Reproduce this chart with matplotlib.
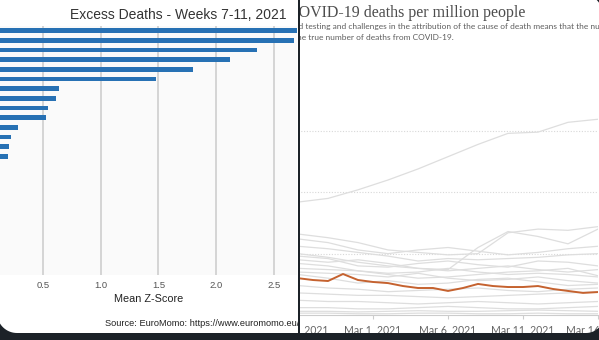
import matplotlib
matplotlib.use("Agg")
import matplotlib.pyplot as plt
import matplotlib.transforms as mtransforms
from matplotlib.patches import Rectangle, Polygon
import numpy as np
import pandas as pd

# --- left panel: mean z-score per country, weeks 7-11 ---
zscores = [2.85, 2.67, 2.35, 2.12, 1.80, 1.48, 0.64, 0.61, 0.54, 0.53,
           0.28, 0.22, 0.21, 0.20]
zscore_ticks = [0.5, 1.0, 1.5, 2.0, 2.5]

# --- right panel: daily deaths per million ---
days = pd.date_range("2021-02-24", "2021-03-16", freq="D")
highlight = [3.0, 2.85, 2.77, 3.34, 2.85, 2.69, 2.6, 2.36, 2.2, 2.2, 1.96,
             2.2, 2.53, 2.36, 2.28, 2.28, 2.36, 2.12, 1.96, 1.8, 1.87]

grid_days = pd.date_range("2021-02-24", "2021-03-16", freq="2D")
top_country = [9.2, 9.5, 10.2, 11.0, 11.9, 12.9, 13.9, 14.8, 14.9, 15.7, 15.95]
others = [
    [6.6, 6.3, 5.9, 5.3, 5.1, 4.9, 5.0, 6.7, 7.0, 6.9, 7.2],
    [6.2, 5.9, 5.3, 5.0, 5.3, 5.5, 5.2, 4.9, 5.1, 5.4, 5.6],
    [5.6, 5.4, 5.1, 4.8, 4.4, 4.6, 4.5, 4.6, 4.7, 4.9, 5.0],
    [5.0, 4.7, 4.3, 4.0, 3.8, 3.7, 5.5, 6.8, 6.4, 5.8, 7.0],
    [4.8, 4.6, 4.0, 3.9, 4.2, 4.4, 4.1, 3.9, 4.4, 4.3, 4.0],
    [4.5, 4.3, 4.5, 4.2, 3.8, 3.6, 3.8, 4.0, 3.7, 3.5, 3.7],
    [4.2, 4.0, 3.6, 3.4, 3.5, 3.8, 3.5, 3.3, 3.4, 3.3, 3.1],
    [3.8, 3.7, 3.6, 3.3, 3.0, 3.1, 3.3, 3.5, 3.6, 3.8, 3.2],
    [3.5, 3.4, 3.3, 3.1, 3.4, 3.0, 2.8, 2.9, 3.1, 2.8, 2.6],
    [3.3, 3.0, 2.6, 2.8, 2.5, 2.6, 2.9, 3.0, 2.7, 2.4, 2.5],
    [2.4, 2.2, 2.1, 1.9, 2.0, 2.1, 2.2, 2.0, 1.9, 2.1, 2.2],
    [1.8, 1.7, 1.6, 1.6, 1.5, 1.4, 1.5, 1.6, 1.7, 1.8, 1.9],
    [1.2, 1.1, 1.1, 1.0, 0.9, 1.0, 1.1, 1.0, 0.9, 1.0, 1.1],
    [0.6, 0.6, 0.5, 0.5, 0.6, 0.7, 0.6, 0.5, 0.5, 0.6, 0.7],
    [0.3, 0.3, 0.25, 0.3, 0.35, 0.3, 0.3, 0.35, 0.4, 0.35, 0.3],
    [0.15, 0.15, 0.1, 0.1, 0.15, 0.15, 0.1, 0.1, 0.15, 0.1, 0.1],
]
date_ticks = pd.to_datetime(["2021-02-24", "2021-03-01", "2021-03-06",
                             "2021-03-11", "2021-03-16"])
date_labels = ["Feb 24, 2021", "Mar 1, 2021", "Mar 6, 2021",
               "Mar 11, 2021", "Mar 16, 2021"]

W, H = 599, 340
DARK = "#1c2228"
fig = plt.figure(figsize=(W / 100, H / 100), dpi=100)
fig.patch.set_facecolor("white")
# pixel coordinates, origin top-left
px = mtransforms.Affine2D().scale(1 / W, -1 / H).translate(0, 1) + fig.transFigure


def add_axes_px(x0, y0, x1, y1, **kw):
    return fig.add_axes([x0 / W, 1 - y1 / H, (x1 - x0) / W, (y1 - y0) / H], **kw)


# ---------------- right panel (drawn underneath) ----------------
ax2 = add_axes_px(298, 45, 598, 315, zorder=0)
for vals in others:
    ax2.plot(grid_days, vals, color="#dedede", lw=0.9, zorder=2)
ax2.plot(grid_days, top_country, color="#dedede", lw=0.9, zorder=2)
ax2.plot(days, highlight, color="#c5622f", lw=1.4, zorder=3)
ax2.set_xlim(pd.Timestamp("2021-02-24"), pd.Timestamp("2021-03-16"))
ax2.set_ylim(0, 22.0)
ax2.set_yticks([5, 10, 15])
ax2.yaxis.grid(True, color="#d8d8d8", lw=0.8, ls=(0, (1, 1.5)))
ax2.tick_params(axis="y", length=0, labelleft=False)
ax2.set_xticks(date_ticks)
ax2.set_xticklabels(date_labels, family="Lato", fontsize=7.6, color="#666666")
ax2.tick_params(axis="x", length=3, color="#cccccc", pad=4)
for side in ("top", "right", "left"):
    ax2.spines[side].set_visible(False)
ax2.spines["bottom"].set_color("#cccccc")
ax2.spines["bottom"].set_linewidth(0.8)

fig.text(525, 13, "COVID-19 deaths per million people", transform=px,
         family="Liberation Serif", fontsize=11.5, color="#4d4d4d",
         ha="right", va="center", zorder=0.2)
sub1 = ("Limited testing and challenges in the attribution of the cause of "
        "death means that the number of confirmed deaths may not be an "
        "accurate count of")
SUB_SIZE = 6.0
renderer = fig.canvas.get_renderer()
probe = fig.text(0, 0, "Limite", family="Lato", fontsize=SUB_SIZE)
lead = probe.get_window_extent(renderer).width
probe.remove()
fig.text(298 - lead, 27, sub1, transform=px, family="Lato", fontsize=SUB_SIZE,
         color="#5e5e5e", ha="left", va="center", zorder=0.2)
fig.text(454, 37, "the true number of deaths from COVID-19.", transform=px,
         family="Lato", fontsize=SUB_SIZE, color="#5e5e5e", ha="right",
         va="center", zorder=0.2)

# white card for the left panel covers anything spilling past the divider
fig.add_artist(Rectangle((0, 0), 298, H, transform=px, facecolor="white",
                         edgecolor="none", zorder=0.5))

# ---------------- left panel ----------------
ax1 = add_axes_px(0, 26, 297, 275, zorder=1)
ax1.set_facecolor("#fafafa")
pos = np.arange(len(zscores))
ax1.barh(pos, zscores, height=0.5, color="#2771b4", zorder=3)
ax1.set_xlim(0.128, 2.699)
ax1.set_ylim(25.3, -0.49)
ax1.set_xticks(zscore_ticks)
ax1.set_xticklabels([f"{t:.1f}" for t in zscore_ticks],
                    family="Liberation Sans", fontsize=6.8, color="#555555")
ax1.set_yticks([])
ax1.tick_params(axis="x", length=0, pad=4)
ax1.xaxis.grid(True, color="#d2d2d2", lw=1.3, zorder=0)
for s in ax1.spines.values():
    s.set_visible(False)
ax1.set_xlabel("Mean Z-Score", family="Liberation Sans", fontsize=7.8,
               color="#222222", labelpad=3)

fig.text(178, 15, "Excess Deaths - Weeks 7-11, 2021", transform=px,
         family="Liberation Sans", fontsize=10, color="#333333",
         ha="center", va="center", zorder=2)
src = fig.text(105, 324, "Source: EuroMomo: https://www.euromomo.eu/",
               transform=px, family="Liberation Sans", fontsize=6.7,
               color="#222222", ha="left", va="center", zorder=2)
# the source line is cut off by the panel divider
src.set_clip_box(mtransforms.TransformedBbox(
    mtransforms.Bbox([[0, 0], [298, H]]), px))
src.set_clip_on(True)


# ---------------- frame: divider, bottom strip, rounded corners ----------------
def corner_mask(cx, cy, r, sx, sy):
    """Dark fill between a square corner at (cx, cy) and its rounded arc."""
    t = np.linspace(0, np.pi / 2, 20)
    ox, oy = cx - sx * r, cy - sy * r
    arc = np.column_stack([ox + sx * r * np.cos(t), oy + sy * r * np.sin(t)])
    pts = np.vstack([[cx, cy], arc])
    fig.add_artist(Polygon(pts, closed=True, transform=px, facecolor=DARK,
                           edgecolor="none", zorder=6))


fig.add_artist(Rectangle((297.5, 0), 2.2, H, transform=px, facecolor=DARK,
                         edgecolor="none", zorder=6))
fig.add_artist(Rectangle((0, 333), W, H - 333, transform=px, facecolor=DARK,
                         edgecolor="none", zorder=6))
corner_mask(-3, 333, 20, -1, 1)
corner_mask(604, -8, 26, 1, -1)
corner_mask(604, 333, 18, 1, 1)

fig.savefig("out.png", dpi=100, facecolor=fig.get_facecolor())
